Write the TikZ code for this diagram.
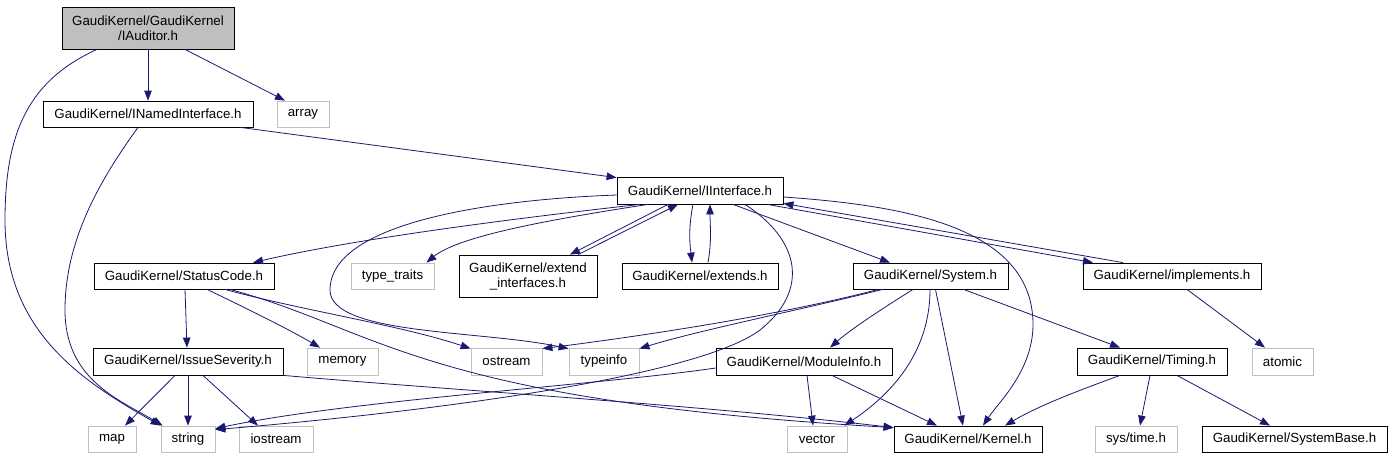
\documentclass[tikz,border=0pt]{standalone}
\usepackage{fontspec}
\setmainfont{Liberation Sans}
\usetikzlibrary{arrows.meta}
\definecolor{edgeblue}{HTML}{191970}
\definecolor{lgray}{HTML}{BFBFBF}
\begin{document}
\begin{tikzpicture}[x=1pt,y=-1pt,
  box/.style={draw=black, fill=white, line width=0.8pt, inner sep=0pt, font=\fontsize{13.3}{15}\selectfont, align=center},
  sysbox/.style={draw=lgray, fill=white, line width=0.8pt, inner sep=0pt, font=\fontsize{13.3}{15}\selectfont, align=center},
  e/.style={draw=edgeblue, line width=0.8pt, -{Triangle[length=10pt,width=7.5pt]}}]
\useasboundingbox (0,0) rectangle (1392,459);
% nodes
\node[box, fill=lgray, minimum width=172pt, minimum height=42pt] (aud) at (148,28) {GaudiKernel/GaudiKernel\\/IAuditor.h};
\node[box, minimum width=210pt, minimum height=26pt] (nam) at (148,114) {GaudiKernel/INamedInterface.h};
\node[sysbox, minimum width=52pt, minimum height=26pt] (arr) at (303,114) {array};
\node[box, minimum width=166pt, minimum height=27pt] (ii) at (700,190.5) {GaudiKernel/IInterface.h};
\node[sysbox, minimum width=83pt, minimum height=26pt] (tt) at (392.5,276) {type\_traits};
\node[box, minimum width=138pt, minimum height=42pt] (ext) at (528,276) {GaudiKernel/extend\\\_interfaces.h};
\node[box, minimum width=156pt, minimum height=26pt] (exs) at (700,276) {GaudiKernel/extends.h};
\node[box, minimum width=155pt, minimum height=26pt] (sys) at (930.5,276) {GaudiKernel/System.h};
\node[box, minimum width=178pt, minimum height=26pt] (imp) at (1172,276) {GaudiKernel/implements.h};
\node[box, minimum width=180pt, minimum height=26pt] (sc) at (184,276) {GaudiKernel/StatusCode.h};
\node[box, minimum width=190pt, minimum height=27pt] (is) at (188,361.5) {GaudiKernel/IssueSeverity.h};
\node[sysbox, minimum width=71pt, minimum height=27pt] (mem) at (342.5,361.5) {memory};
\node[sysbox, minimum width=71pt, minimum height=27pt] (ost) at (506.5,361.5) {ostream};
\node[sysbox, minimum width=70pt, minimum height=27pt] (ti) at (604,361.5) {typeinfo};
\node[box, minimum width=176pt, minimum height=27pt] (mi) at (804,361.5) {GaudiKernel/ModuleInfo.h};
\node[box, minimum width=150pt, minimum height=27pt] (tim) at (1152,361.5) {GaudiKernel/Timing.h};
\node[sysbox, minimum width=61pt, minimum height=27pt] (atm) at (1282.5,361.5) {atomic};
\node[sysbox, minimum width=48pt, minimum height=26pt] (map) at (112,439) {map};
\node[sysbox, minimum width=54pt, minimum height=26pt] (str) at (188,439) {string};
\node[sysbox, minimum width=74pt, minimum height=26pt] (ios) at (276,439) {iostream};
\node[sysbox, minimum width=60pt, minimum height=26pt] (vec) at (817,439) {vector};
\node[box, minimum width=148pt, minimum height=26pt] (ker) at (968,439) {GaudiKernel/Kernel.h};
\node[sysbox, minimum width=82pt, minimum height=26pt] (syt) at (1136,439) {sys/time.h};
\node[box, minimum width=185pt, minimum height=26pt] (sb) at (1294.5,439) {GaudiKernel/SystemBase.h};
% edges
\draw[e] (aud.south) -- (nam.north);
\draw[e] ([xshift=37pt]aud.south) -- ([xshift=-18pt]arr.north);
\draw[e] ([xshift=-51pt]aud.south) .. controls (30,80) and (5,130) .. (5,220) .. controls (5,330) and (80,380) .. (str.north west);
\draw[e] ([xshift=-10pt]nam.south) .. controls (100,180) and (65,240) .. (65,310) .. controls (65,380) and (120,400) .. ([xshift=2pt]str.north west);
\draw[e] ([xshift=-13pt]nam.south east) -- ([yshift=-1pt]ii.north west);
\draw[e] ([xshift=-60pt]ii.south) .. controls (500,220) and (350,240) .. ([xshift=69pt]sc.north);
\draw[e] ([xshift=-52pt]ii.south) .. controls (560,218) and (460,235) .. ([xshift=-8pt]tt.north east);
\draw[e] ([xshift=-32pt]ii.south) -- ([xshift=42pt]ext.north);
\draw[e] ([xshift=50pt]ext.north) -- ([xshift=-22pt]ii.south);
\draw[e] ([xshift=-7pt]ii.south) .. controls (688,230) and (690,245) .. ([xshift=-8pt]exs.north);
\draw[e] ([xshift=8pt]exs.north) .. controls (712,240) and (710,225) .. ([xshift=10pt]ii.south);
\draw[e] ([xshift=33pt]ii.south) -- ([xshift=-40.5pt]sys.north);
\draw[e] ([xshift=-16pt]ii.south east) -- ([xshift=-79pt]imp.north);
\draw[e] ([xshift=-49pt]imp.north) -- ([yshift=1pt]ii.south east);
\draw[e] ([yshift=-6.5pt]ii.east) .. controls (900,205) and (1010,225) .. (1030,300) .. controls (1045,360) and (1000,400) .. ([xshift=15pt]ker.north);
\draw[e] ([xshift=45pt]ii.south) .. controls (800,240) and (810,290) .. (760,330) .. controls (700,375) and (450,410) .. ([yshift=-4pt]str.north east);
\draw[e] ([yshift=-4.5pt]ii.west) .. controls (480,200) and (330,225) .. (330,290) .. controls (330,335) and (480,330) .. ([yshift=-1pt]ti.north west);
\draw[e] ([xshift=-48pt]sys.south) .. controls (800,310) and (700,330) .. ([yshift=-1pt]ti.north east);
\draw[e] ([xshift=-52pt]sys.south) .. controls (780,315) and (650,335) .. ([yshift=-1pt]ost.north east);
\draw[e] ([xshift=-17.5pt]sys.south) .. controls (880,310) and (850,330) .. ([xshift=26pt]mi.north);
\draw[e] ([xshift=-0.5pt]sys.south) .. controls (930,340) and (905,385) .. ([xshift=-3pt]vec.north east);
\draw[e] ([xshift=5pt]sys.south) -- ([xshift=-5pt]ker.north);
\draw[e] ([xshift=33pt]sys.south) -- ([xshift=-32pt]tim.north);
\draw[e] ([xshift=15pt]imp.south) -- ([xshift=-17.5pt]atm.north);
\draw[e] ([xshift=1pt]sc.south) -- ([xshift=-1pt]is.north);
\draw[e] ([xshift=23pt]sc.south) .. controls (250,310) and (290,330) .. ([xshift=-22.5pt]mem.north);
\draw[e] ([xshift=41pt]sc.south) .. controls (300,310) and (400,325) .. ([yshift=-1pt]ost.north west);
\draw[e] ([xshift=46pt]sc.south) .. controls (380,330) and (420,400) .. ([yshift=-2pt]ker.north west);
\draw[e] (is.south east) .. controls (450,390) and (700,405) .. ([yshift=-2pt]ker.north west);
\draw[e] ([yshift=-6.5pt]mi.west) .. controls (600,385) and (350,400) .. ([yshift=-3pt]str.north east);
\draw[e] ([xshift=3pt]mi.south) -- ([xshift=-4pt]vec.north);
\draw[e] ([xshift=28pt]mi.south) -- ([xshift=-31pt]ker.north);
\draw[e] ([xshift=-32pt]tim.south) .. controls (1080,390) and (1040,405) .. ([xshift=37pt]ker.north);
\draw[e] ([xshift=-2pt]tim.south) -- ([xshift=4pt]syt.north);
\draw[e] ([xshift=25pt]tim.south) -- ([xshift=-24.5pt]sb.north);
\draw[e] ([xshift=-13pt]is.south) -- ([xshift=13pt]map.north);
\draw[e] (is.south) -- (str.north);
\draw[e] ([xshift=15pt]is.south) -- ([xshift=-18pt]ios.north);
\end{tikzpicture}
\end{document}
